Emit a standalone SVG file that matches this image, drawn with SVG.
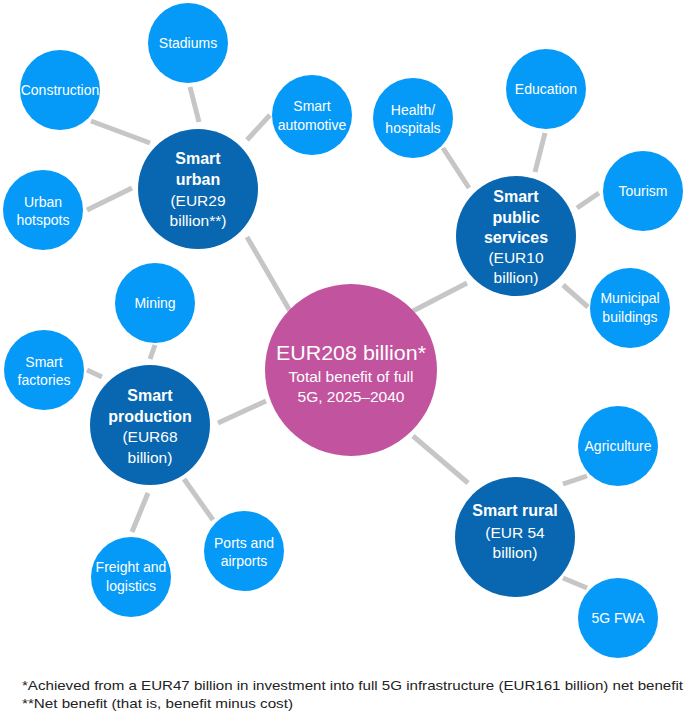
<svg xmlns="http://www.w3.org/2000/svg" width="700" height="722" viewBox="0 0 700 722">
<style>
.s{fill:#0599F8}
.m{fill:#0867B0}
.c{fill:#C2539E}
.e line{stroke:#C6C6C6;stroke-width:5}
text{font-family:"Liberation Sans",Arial,sans-serif;fill:#fff;text-anchor:middle}
.t{font-size:14px}
.b{font-size:16px;font-weight:bold}
.r{font-size:15.5px}
.f{font-size:13.5px;fill:#222;text-anchor:start}
</style>
<rect width="700" height="722" fill="#fff"/>
<g class="e" id="connectors">
<line x1="190" y1="87" x2="199" y2="122"/>
<line x1="91" y1="121" x2="150" y2="143"/>
<line x1="270" y1="115" x2="247" y2="140"/>
<line x1="87" y1="210" x2="132" y2="188"/>
<line x1="247" y1="237" x2="290" y2="311"/>
<line x1="443" y1="148" x2="469" y2="188"/>
<line x1="545" y1="133" x2="535" y2="172"/>
<line x1="599" y1="193" x2="577" y2="208"/>
<line x1="563" y1="285" x2="588" y2="307"/>
<line x1="467" y1="283" x2="413" y2="311"/>
<line x1="155" y1="345" x2="150" y2="359"/>
<line x1="87" y1="370" x2="102" y2="377"/>
<line x1="148" y1="493" x2="132" y2="532"/>
<line x1="184" y1="479" x2="213" y2="520"/>
<line x1="218" y1="423" x2="266" y2="401"/>
<line x1="587" y1="476" x2="563" y2="484"/>
<line x1="563" y1="578" x2="587" y2="588"/>
<line x1="413" y1="436" x2="468" y2="483"/>
</g>
<g id="center"><circle class="c" cx="351" cy="370" r="86"/>
<text x="351" y="360" style="font-size:21px" textLength="150" lengthAdjust="spacingAndGlyphs">EUR208 billion*</text>
<text x="351" y="382" class="r">Total benefit of full</text>
<text x="351" y="402" class="r">5G, 2025–2040</text></g>
<g id="smart-urban"><circle class="m" cx="198" cy="189" r="60"/>
<text x="198" y="164" class="b">Smart</text><text x="198" y="185" class="b">urban</text>
<text x="198" y="206" class="r">(EUR29</text><text x="198" y="226" class="r">billion**)</text></g>
<g id="stadiums"><circle class="s" cx="188" cy="43" r="40"/><text x="188" y="48" class="t">Stadiums</text></g>
<g id="construction"><circle class="s" cx="60" cy="90" r="40"/><text x="60" y="95" class="t">Construction</text></g>
<g id="smart-automotive"><circle class="s" cx="312" cy="115" r="40"/><text x="312" y="111" class="t">Smart</text><text x="312" y="130" class="t">automotive</text></g>
<g id="urban-hotspots"><circle class="s" cx="43" cy="210" r="40"/><text x="43" y="207" class="t">Urban</text><text x="43" y="225" class="t">hotspots</text></g>
<g id="smart-public"><circle class="m" cx="516" cy="236" r="60"/>
<text x="516" y="202" class="b">Smart</text><text x="516" y="223" class="b">public</text><text x="516" y="243" class="b">services</text>
<text x="516" y="263" class="r">(EUR10</text><text x="516" y="283" class="r">billion)</text></g>
<g id="health"><circle class="s" cx="413" cy="118" r="40"/><text x="413" y="115" class="t">Health/</text><text x="413" y="133" class="t">hospitals</text></g>
<g id="education"><circle class="s" cx="546" cy="89" r="40"/><text x="546" y="94" class="t">Education</text></g>
<g id="tourism"><circle class="s" cx="643" cy="191" r="40"/><text x="643" y="196" class="t">Tourism</text></g>
<g id="municipal"><circle class="s" cx="630" cy="308" r="40"/><text x="630" y="303" class="t">Municipal</text><text x="630" y="322" class="t">buildings</text></g>
<g id="smart-production"><circle class="m" cx="150" cy="425" r="60"/>
<text x="150" y="401" class="b">Smart</text><text x="150" y="422" class="b">production</text>
<text x="150" y="442" class="r">(EUR68</text><text x="150" y="463" class="r">billion)</text></g>
<g id="mining"><circle class="s" cx="155" cy="303" r="40"/><text x="155" y="308" class="t">Mining</text></g>
<g id="factories"><circle class="s" cx="44" cy="370" r="40"/><text x="44" y="367" class="t">Smart</text><text x="44" y="385" class="t">factories</text></g>
<g id="freight"><circle class="s" cx="131" cy="577" r="40"/><text x="131" y="572" class="t">Freight and</text><text x="131" y="591" class="t">logistics</text></g>
<g id="ports"><circle class="s" cx="244" cy="551" r="40"/><text x="244" y="548" class="t">Ports and</text><text x="244" y="566" class="t">airports</text></g>
<g id="smart-rural"><circle class="m" cx="515" cy="537" r="60"/>
<text x="515" y="516" class="b">Smart rural</text><text x="515" y="538" class="r">(EUR 54</text><text x="515" y="558" class="r">billion)</text></g>
<g id="agriculture"><circle class="s" cx="618" cy="446" r="40"/><text x="618" y="451" class="t">Agriculture</text></g>
<g id="fwa"><circle class="s" cx="618" cy="618" r="40"/><text x="618" y="623" class="t">5G FWA</text></g>
<g id="notes">
<text x="22" y="690" class="f" textLength="661" lengthAdjust="spacingAndGlyphs">*Achieved from a EUR47 billion in investment into full 5G infrastructure (EUR161 billion) net benefit</text>
<text x="22" y="708" class="f" textLength="271" lengthAdjust="spacingAndGlyphs">**Net benefit (that is, benefit minus cost)</text>
</g>
</svg>
